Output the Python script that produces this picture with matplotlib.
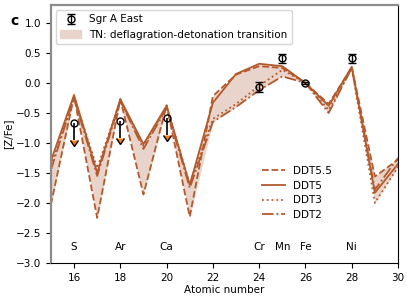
import numpy as np
import matplotlib
matplotlib.use("Agg")
import matplotlib.pyplot as plt
from matplotlib.patches import Patch

plt.rcParams['font.size'] = 7.5
plt.rcParams['font.family'] = 'DejaVu Sans'

# atomic numbers covered by the models
z = np.arange(15, 31)

# [Z/Fe] for the deflagration-detonation transition models
ddt55 = [-2.03, -0.22, -2.25, -0.27, -1.86, -0.37, -2.23, -0.22, 0.14, 0.28, 0.25, 0.0, -0.35, 0.26, -1.56, -1.28]
ddt5 = [-1.30, -0.20, -1.50, -0.27, -1.02, -0.38, -1.70, -0.33, 0.15, 0.32, 0.28, 0.0, -0.38, 0.27, -1.83, -1.35]
ddt3 = [-1.38, -0.24, -1.42, -0.29, -1.05, -0.40, -1.68, -0.60, -0.35, -0.05, 0.22, 0.0, -0.45, 0.25, -2.00, -1.40]
ddt2 = [-1.45, -0.25, -1.55, -0.30, -1.10, -0.42, -1.75, -0.65, -0.40, -0.12, 0.11, 0.0, -0.50, 0.25, -1.78, -1.25]
model_names = ["DDT5.5", "DDT5", "DDT3", "DDT2"]

# Sgr A East measurements
obs_z = [24, 25, 26, 28]
obs_val = [-0.07, 0.41, 0.0, 0.41]
obs_err = [0.08, 0.08, 0.02, 0.08]

# upper limits
lim_z = [16, 18, 20]
lim_val = [-0.67, -0.64, -0.58]
lim_len = 0.28

# element labels
elem_z = [16, 18, 20, 24, 25, 26, 28]
elem_names = ["S", "Ar", "Ca", "Cr", "Mn", "Fe", "Ni"]

line_color = "#b35a2d"
fill_color = "#e8d4ca"

fig = plt.figure(figsize=(4.07, 2.96), dpi=100)
ax = fig.add_axes([0.125, 0.112, 0.853, 0.871])

models = np.array([ddt55, ddt5, ddt3, ddt2])
ax.fill_between(z, models.min(axis=0), models.max(axis=0), color=fill_color, lw=0)

styles = ["--", "-", ":", "-."]
model_handles = []
for vals, ls, name in zip(models, styles, model_names):
    h, = ax.plot(z, vals, ls=ls, color=line_color, lw=1.3, label=name)
    model_handles.append(h)

obs = ax.errorbar(obs_z, obs_val, yerr=obs_err, fmt="o", mfc="none", mec="k", ecolor="k",
                  ms=5, capsize=3, lw=1, zorder=5)
ax.errorbar(lim_z, lim_val, yerr=lim_len, uplims=True, fmt="o", mfc="none", mec="k", ecolor="k",
            ms=5, lw=1.2, zorder=5)

for zz, name in zip(elem_z, elem_names):
    ax.text(zz, -2.73, name, ha="center", va="center")

ax.set_xlim(15, 30)
ax.set_ylim(-3.0, 1.3)
ax.set_xticks(np.arange(16, 31, 2))
ax.set_yticks(np.arange(-3.0, 1.01, 0.5))
ax.set_xlabel("Atomic number", labelpad=2)
ax.set_ylabel("[Z/Fe]", labelpad=2)

ax.spines["left"].set_color("0.55")
ax.spines["top"].set_color("0.55")
ax.spines["top"].set_linewidth(1.6)
ax.spines["left"].set_linewidth(1.6)

leg1 = ax.legend([obs, Patch(color=fill_color)],
                 ["Sgr A East", "TN: deflagration-detonation transition"],
                 loc="upper left")
ax.add_artist(leg1)
ax.legend(handles=model_handles, loc="lower left", bbox_to_anchor=(0.58, 0.13),
          frameon=False, handlelength=2.2, labelspacing=0.45)

fig.text(0.025, 0.915, "c", fontweight="bold", fontsize=10)

fig.savefig("out.png", dpi=100)
